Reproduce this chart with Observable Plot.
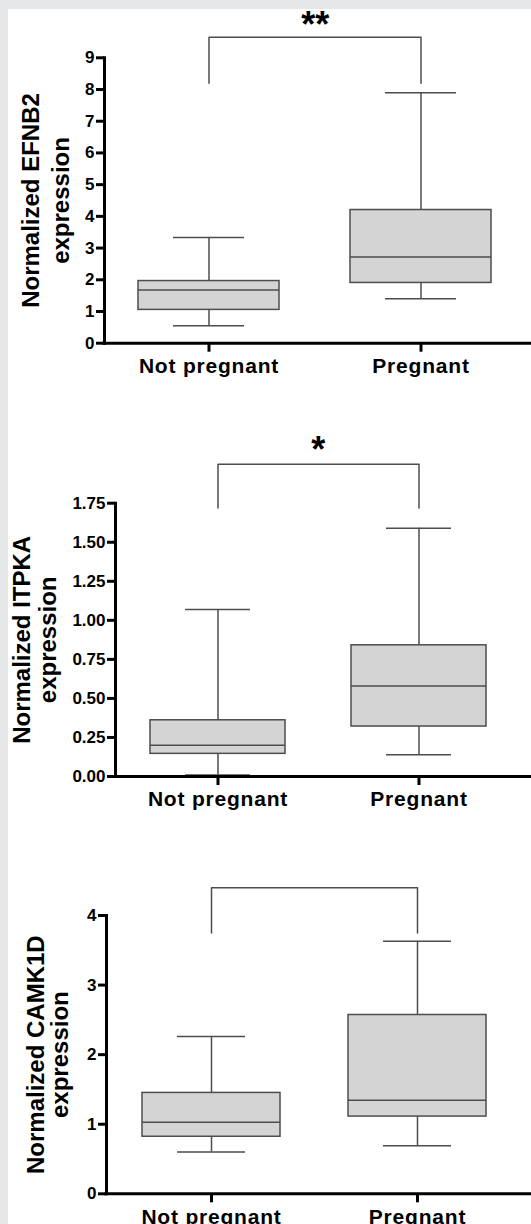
<!DOCTYPE html>
<html>
<head>
<meta charset="utf-8">
<script src="https://cdn.jsdelivr.net/npm/d3@7"></script>
<script src="https://cdn.jsdelivr.net/npm/@observablehq/plot@0.6"></script>
<style>
html, body { margin: 0; padding: 0; overflow: hidden; }
body { background: #e6e7e8; width: 531px; height: 1224px; position: relative; font-family: "Liberation Sans", Arial, sans-serif; }
#panel { position: absolute; left: 8px; top: 9px; right: 0; bottom: 0; background: #ffffff; }
#charts { position: absolute; left: 0; top: 0; width: 531px; }
#charts svg { display: block; }
#charts g[aria-label="x-axis tick label"] text { letter-spacing: 0.8px; }
</style>
</head>
<body>
<div id="panel"></div>
<div id="charts"></div>
<script>
// ---- data ----
const groups = ["Not pregnant", "Pregnant"];

const efnb2Min = [0.55, 1.40];
const efnb2Q1  = [1.05, 1.90];
const efnb2Med = [1.68, 2.72];
const efnb2Q3  = [1.96, 4.20];
const efnb2Max = [3.33, 7.90];
const efnb2Ticks = [0, 1, 2, 3, 4, 5, 6, 7, 8, 9];

const itpkaMin = [0.01, 0.14];
const itpkaQ1  = [0.145, 0.32];
const itpkaMed = [0.20, 0.58];
const itpkaQ3  = [0.36, 0.84];
const itpkaMax = [1.07, 1.59];
const itpkaTicks = [0, 0.25, 0.5, 0.75, 1.0, 1.25, 1.5, 1.75];

const camk1dMin = [0.60, 0.69];
const camk1dQ1  = [0.82, 1.11];
const camk1dMed = [1.03, 1.345];
const camk1dQ3  = [1.45, 2.57];
const camk1dMax = [2.26, 3.63];
const camk1dTicks = [0, 1, 2, 3, 4];

const significance = ["**", "*", ""];

function rows(mn, q1, md, q3, mx) {
  return groups.map((g, i) => ({group: g, min: mn[i], q1: q1[i], med: md[i], q3: q3[i], max: mx[i]}));
}

const panels = [
  {title: ["Normalized EFNB2", "expression"], data: rows(efnb2Min, efnb2Q1, efnb2Med, efnb2Q3, efnb2Max),
   ticks: efnb2Ticks, fmt: d3.format("d"), domain: [0, 9], bracket: [8.2, 9.65], star: significance[0], starY: 10.02,
   height: 400, mt: 57.3, mb: 57.3, ml: 104, mr: 5.5, pi: 0.335, po: 0.16, t1: 31, t2: 61},
  {title: ["Normalized ITPKA", "expression"], data: rows(itpkaMin, itpkaQ1, itpkaMed, itpkaQ3, itpkaMax),
   ticks: itpkaTicks, fmt: d3.format(".2f"), domain: [0, 1.75], bracket: [1.72, 2.0], star: significance[1], starY: 2.09,
   height: 420, mt: 102.7, mb: 44, ml: 115, mr: 10.3, pi: 0.33, po: 0.173, t1: 22, t2: 48},
  {title: ["Normalized CAMK1D", "expression"], data: rows(camk1dMin, camk1dQ1, camk1dMed, camk1dQ3, camk1dMax),
   ticks: camk1dTicks, fmt: d3.format("d"), domain: [0, 4], bracket: [3.75, 4.40], star: significance[2], starY: 4.6,
   height: 404, mt: 95, mb: 30.7, ml: 106, mr: 10, pi: 0.331, po: 0.171, t1: 36, t2: 60}
];

const boxStroke = "#4d4d4d";
const boxFill = "#d4d4d4";
const font = "Liberation Sans, Arial, sans-serif";

const host = document.getElementById("charts");
for (const p of panels) {
  const bracketPts = [
    {x: groups[0], y: p.bracket[0]},
    {x: groups[0], y: p.bracket[1]},
    {x: groups[1], y: p.bracket[1]},
    {x: groups[1], y: p.bracket[0]}
  ];
  const marks = [
    Plot.ruleX(p.data, {x: "group", y1: "min", y2: "max", stroke: boxStroke, strokeWidth: 1.5}),
    Plot.barY(p.data, {x: "group", y1: "q1", y2: "q3", fill: boxFill, stroke: boxStroke, strokeWidth: 1.5}),
    Plot.tickY(p.data, {x: "group", y: "med", stroke: boxStroke, strokeWidth: 1.5}),
    Plot.tickY(p.data, {x: "group", y: "min", stroke: boxStroke, strokeWidth: 1.5, insetLeft: 35, insetRight: 35}),
    Plot.tickY(p.data, {x: "group", y: "max", stroke: boxStroke, strokeWidth: 1.5, insetLeft: 35, insetRight: 35}),
    Plot.line(bracketPts, {x: "x", y: "y", stroke: boxStroke, strokeWidth: 1.5}),
    Plot.frame({anchor: "left", stroke: "black", strokeWidth: 3}),
    Plot.ruleY([0], {stroke: "black", strokeWidth: 3, insetLeft: -1.5, insetRight: -p.mr}),
    Plot.axisY({ticks: p.ticks, tickFormat: p.fmt, tickSize: 8, tickPadding: 2, stroke: "black", strokeWidth: 3,
      fill: "black", fontSize: 17, fontWeight: "bold", fontFamily: font, label: null}),
    Plot.axisX({tickSize: 9, tickPadding: 6, stroke: "black", strokeWidth: 3,
      fill: "black", fontSize: 21, fontWeight: "bold", fontFamily: font, label: null}),
    Plot.text([p.title[0]], {text: d => d, frameAnchor: "left", textAnchor: "middle", dx: p.t1 - p.ml, rotate: -90,
      fontSize: 24, fontWeight: "bold", fontFamily: font, fill: "black"}),
    Plot.text([p.title[1]], {text: d => d, frameAnchor: "left", textAnchor: "middle", dx: p.t2 - p.ml, rotate: -90,
      fontSize: 24, fontWeight: "bold", fontFamily: font, fill: "black"})
  ];
  if (p.star) {
    marks.push(Plot.text([p.star], {text: d => d, y: () => p.starY, fontSize: 36, fontWeight: "bold",
      fontFamily: font, fill: "black"}));
  }
  const chart = Plot.plot({
    width: 531,
    height: p.height,
    marginTop: p.mt,
    marginBottom: p.mb,
    marginLeft: p.ml,
    marginRight: p.mr,
    style: {background: "transparent", overflow: "visible", fontFamily: font},
    x: {type: "band", domain: groups, paddingInner: p.pi, paddingOuter: p.po, label: null},
    y: {domain: p.domain, label: null},
    marks
  });
  host.appendChild(chart);
}
</script>
</body>
</html>
